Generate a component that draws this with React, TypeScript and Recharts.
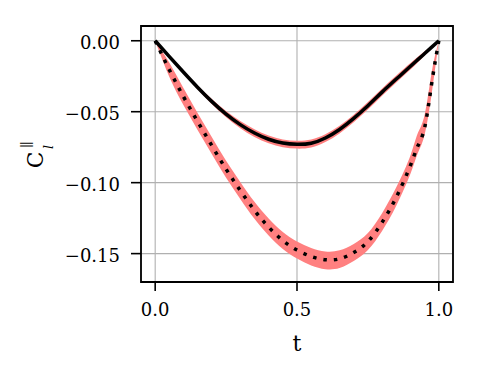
import React from 'react';
import {
  ComposedChart,
  Line,
  Area,
  XAxis,
  YAxis,
  CartesianGrid,
  ReferenceArea,
  Label,
} from 'recharts';

// ---- data ----
const tValues = [0, 0.05, 0.1, 0.15, 0.2, 0.25, 0.3, 0.35, 0.4, 0.45, 0.5, 0.55, 0.6, 0.65, 0.7, 0.75, 0.8, 0.85, 0.9, 0.925, 0.95, 0.975, 1.0];

const upperMean = [0, -0.0112, -0.0222, -0.0329, -0.0429, -0.0517, -0.0591, -0.065, -0.0694, -0.0721, -0.073, -0.0722, -0.0685, -0.0625, -0.0547, -0.0458, -0.0362, -0.027, -0.018, -0.0135, -0.009, -0.0045, 0];
const upperHi = [0, -0.0107, -0.0212, -0.0315, -0.0411, -0.0495, -0.0566, -0.0624, -0.0668, -0.0695, -0.0705, -0.0696, -0.0659, -0.0599, -0.0521, -0.0432, -0.0336, -0.0245, -0.0157, -0.0115, -0.0074, -0.0035, 0];
const upperLo = [0, -0.0117, -0.0232, -0.0343, -0.0447, -0.0539, -0.0617, -0.0678, -0.0723, -0.0751, -0.076, -0.0752, -0.0714, -0.0653, -0.0574, -0.0485, -0.0388, -0.0295, -0.0203, -0.0155, -0.0106, -0.0055, 0];

const lowerMean = [0, -0.0205, -0.0395, -0.057, -0.074, -0.0905, -0.1055, -0.1195, -0.1313, -0.1408, -0.1475, -0.152, -0.1543, -0.1537, -0.1492, -0.1415, -0.128, -0.1103, -0.0878, -0.0746, -0.0612, -0.03, 0];
const lowerHi = [0, -0.0155, -0.0335, -0.051, -0.068, -0.0845, -0.0995, -0.1135, -0.1253, -0.1348, -0.1415, -0.146, -0.1485, -0.1477, -0.1432, -0.1355, -0.1215, -0.1033, -0.0808, -0.0656, -0.0522, -0.022, 0];
const lowerLo = [0, -0.0255, -0.0455, -0.063, -0.08, -0.0965, -0.1115, -0.1255, -0.1373, -0.1468, -0.1535, -0.1584, -0.161, -0.1602, -0.1552, -0.1475, -0.134, -0.1163, -0.0938, -0.0796, -0.0662, -0.037, 0];

const xTicks = [0, 0.5, 1.0];
const yTicks = [0, -0.05, -0.1, -0.15];
const xDomain: [number, number] = [-0.05, 1.05];
const yDomain: [number, number] = [-0.17, 0.0104];

const data = tValues.map((t, i) => ({
  t,
  upper: upperMean[i],
  upperBand: [upperLo[i], upperHi[i]],
  lower: lowerMean[i],
  lowerBand: [lowerLo[i], lowerHi[i]],
}));

const FONT = 'DejaVu Serif';
const BAND = '#ff8080';

const fmtY = (v: number) => (v < 0 ? '\u2212' : '') + Math.abs(v).toFixed(2);
const fmtX = (v: number) => v.toFixed(1);

const YTick = (props: any) => {
  const { x, y, payload } = props;
  return (
    <text x={x} y={y} dy={8.5} textAnchor="end" fontFamily={FONT} fontSize={18} fill="#000">
      {fmtY(payload.value)}
    </text>
  );
};

const XTick = (props: any) => {
  const { x, y, payload } = props;
  return (
    <text x={x} y={y} dy={14} textAnchor="middle" fontFamily={FONT} fontSize={18} fill="#000">
      {fmtX(payload.value)}
    </text>
  );
};

const YLabel = () => (
  <g transform="translate(43,155) rotate(-90)" fontFamily={FONT} fill="#000">
    <text x={3.5} y={0} textAnchor="end" fontSize={22}>C</text>
    <text x={6} y={10} fontSize={13} fontStyle="italic">l</text>
    <text x={6.8} y={-13} fontSize={13} letterSpacing={-1.7}>||</text>
  </g>
);

const XLabel = (props: any) => {
  const vb = props.viewBox || {};
  const cx = (vb.x ?? 141) + (vb.width ?? 312) / 2;
  return (
    <text x={cx} y={350.5} textAnchor="middle" fontFamily={FONT} fontSize={22} fill="#000">
      t
    </text>
  );
};

export default function App() {
  return (
    <div style={{ position: 'absolute', left: 0, top: 0, background: '#fff' }}>
      <ComposedChart
        width={480}
        height={380}
        data={data}
        margin={{ top: 26, right: 27, bottom: 0, left: 0 }}
      >
        <CartesianGrid stroke="#b0b0b0" strokeWidth={1.1} />
        <XAxis
          dataKey="t"
          type="number"
          domain={xDomain}
          ticks={xTicks}
          allowDataOverflow
          height={98}
          axisLine={false}
          tickLine={{ stroke: '#000', strokeWidth: 1.6 }}
          tickSize={9}
          tickMargin={11}
          tick={<XTick />}
          interval={0}
        >
          <Label content={<XLabel />} />
        </XAxis>
        <YAxis
          type="number"
          domain={yDomain}
          ticks={yTicks}
          allowDataOverflow
          width={141}
          axisLine={false}
          tickLine={{ stroke: '#000', strokeWidth: 1.6 }}
          tickSize={10}
          tickMargin={11}
          tick={<YTick />}
          interval={0}
        >
          <Label content={<YLabel />} />
        </YAxis>
        <Area
          dataKey="lowerBand"
          type="natural"
          stroke="none"
          fill={BAND}
          fillOpacity={1}
          isAnimationActive={false}
          activeDot={false}
        />
        <Area
          dataKey="upperBand"
          type="natural"
          stroke="none"
          fill={BAND}
          fillOpacity={1}
          isAnimationActive={false}
          activeDot={false}
        />
        <Line
          dataKey="upper"
          type="natural"
          stroke="#000"
          strokeWidth={3.5}
          dot={false}
          activeDot={false}
          isAnimationActive={false}
        />
        <Line
          dataKey="lower"
          type="natural"
          stroke="#000"
          strokeWidth={3.5}
          strokeDasharray="3.5 7"
          strokeLinecap="butt"
          dot={false}
          activeDot={false}
          isAnimationActive={false}
        />
        <ReferenceArea
          x1={xDomain[0]}
          x2={xDomain[1]}
          y1={yDomain[0]}
          y2={yDomain[1]}
          fill="none"
          fillOpacity={0}
          stroke="#000"
          strokeWidth={1.8}
          ifOverflow="visible"
        />
      </ComposedChart>
    </div>
  );
}
